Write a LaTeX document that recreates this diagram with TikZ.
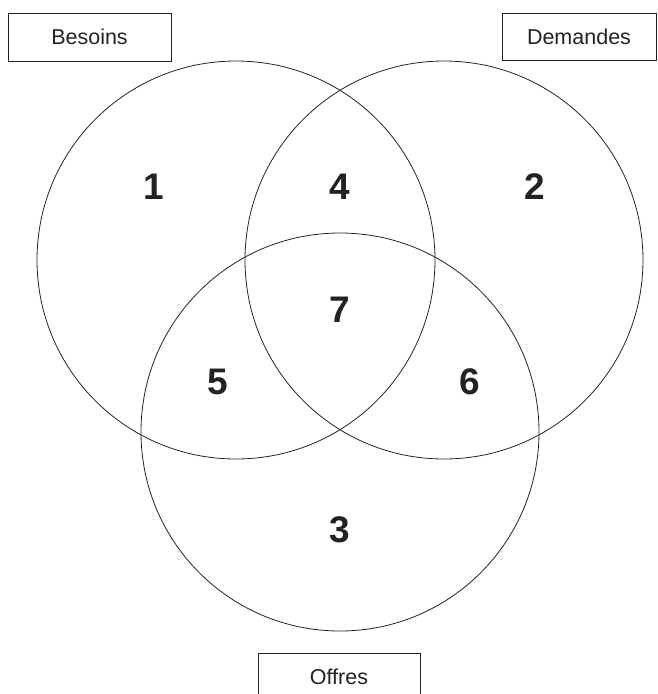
\documentclass[tikz,border=0pt]{standalone}
\usepackage{fontspec}
\setmainfont{Liberation Sans}
\definecolor{ink}{HTML}{222222}
\begin{document}
\begin{tikzpicture}[x=1pt,y=-1pt,
  ring/.style={draw=ink,line width=0.8pt},
  tag/.style={draw=ink,line width=0.8pt,rectangle,inner sep=0pt,font=\fontsize{21.5}{24}\selectfont,text=ink},
  num/.style={font=\fontsize{37}{40}\selectfont\bfseries,text=ink}]
\useasboundingbox (0,0) rectangle (657,694);
\clip (0,0) rectangle (657,694);
\draw[ring] (236,260) circle (199);
\draw[ring] (444,260) circle (199);
\draw[ring] (340,432) circle (199);
\node[tag,minimum width=163,minimum height=48] (besoins) at (89.5,37) {Besoins};
\node[tag,minimum width=154,minimum height=47] (demandes) at (579,36.5) {Demandes};
\node[tag,minimum width=162,minimum height=47] (offres) at (339,676.5) {Offres};
\node[num] (n1) at (154,187) {1};
\node[num] (n4) at (340,187) {4};
\node[num] (n2) at (535,187) {2};
\node[num] (n7) at (340,310) {7};
\node[num] (n5) at (218,382) {5};
\node[num] (n6) at (470,382) {6};
\node[num] (n3) at (340,530) {3};
\end{tikzpicture}
\end{document}
